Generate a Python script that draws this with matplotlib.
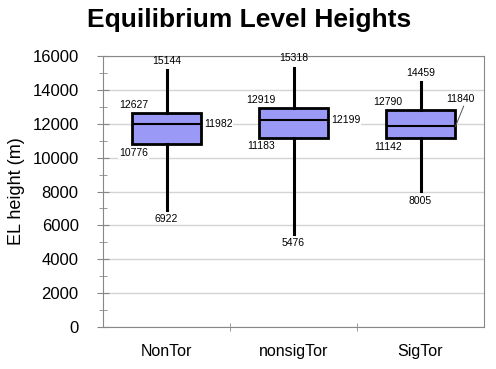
import numpy as np
import matplotlib
matplotlib.use('Agg')
from matplotlib import pyplot as plt

plt.rcParams['font.family'] = ['Liberation Sans', 'DejaVu Sans']

# data
groups = ['NonTor', 'nonsigTor', 'SigTor']
lo = [6922, 5476, 8005]
q1 = [10776, 11183, 11142]
med = [11982, 12199, 11840]
q3 = [12627, 12919, 12790]
hi = [15144, 15318, 14459]

stats = []
for i in range(3):
    stats.append({'whislo': lo[i], 'q1': q1[i], 'med': med[i], 'q3': q3[i],
                  'whishi': hi[i], 'label': groups[i]})

fig = plt.figure(figsize=(4.96, 3.69), dpi=100)
ax = fig.add_axes([103/496, 1-327/369, (484-103)/496, (327-56)/369])

pos = [1, 2, 3]
ax.bxp(stats, positions=pos, widths=0.55, showfliers=False, showcaps=False,
       patch_artist=True,
       boxprops=dict(facecolor='#9a9af6', edgecolor='black', linewidth=2),
       medianprops=dict(color='black', linewidth=1.5),
       whiskerprops=dict(color='black', linewidth=2.2))

ax.set_xlim(0.5, 3.5)
ax.set_ylim(0, 16000)
ax.set_yticks(np.arange(0, 16001, 2000))
ax.set_yticks(np.arange(1000, 16000, 2000), minor=True)
ax.set_xticks([1.5, 2.5], minor=True)
ax.set_xticks(pos)
ax.set_xticklabels(groups, fontsize=11.5)
ax.tick_params(axis='x', which='major', length=0, pad=12)
ax.tick_params(axis='x', which='minor', direction='inout', length=6, color='#888888')
ax.tick_params(axis='y', which='major', direction='inout', length=9, color='#888888',
               labelsize=12, pad=13)
ax.tick_params(axis='y', which='minor', direction='inout', length=6, color='#888888')
ax.yaxis.grid(True, color='#d4d4d4', linewidth=1)
ax.set_axisbelow(True)
for s in ax.spines.values():
    s.set_color('#888888')

ax.set_ylabel('EL height (m)', fontsize=13, labelpad=5)
fig.text(249/496, 1 - 27/369, 'Equilibrium Level Heights', fontsize=19, fontweight='bold',
         ha='center', va='baseline')

fs = 7.5
bb = dict(facecolor='white', edgecolor='none', pad=0.5)
hw = 0.55 / 2
for i, p in enumerate(pos):
    ax.text(p, hi[i] + 250, str(hi[i]), ha='center', va='bottom', fontsize=fs)
    ax.text(p, lo[i] - 250, str(lo[i]), ha='center', va='top', fontsize=fs)
    ax.text(p - hw + 0.13, q3[i] + 180, str(q3[i]), ha='right', va='bottom', fontsize=fs, bbox=bb)
    ax.text(p - hw + 0.13, q1[i] - 220, str(q1[i]), ha='right', va='top', fontsize=fs, bbox=bb)
    if i < 2:
        ax.text(p + hw + 0.02, med[i], str(med[i]), ha='left', va='center', fontsize=fs, bbox=bb)
    else:
        # label above the box with a leader line to the median
        ax.text(p + hw + 0.04, q3[i] + 400, str(med[i]), ha='center', va='bottom', fontsize=fs)
        ax.plot([p + hw, p + hw + 0.065], [med[i], q3[i] + 250], color='#555555', linewidth=0.7)

fig.savefig('out.png', dpi=100)
